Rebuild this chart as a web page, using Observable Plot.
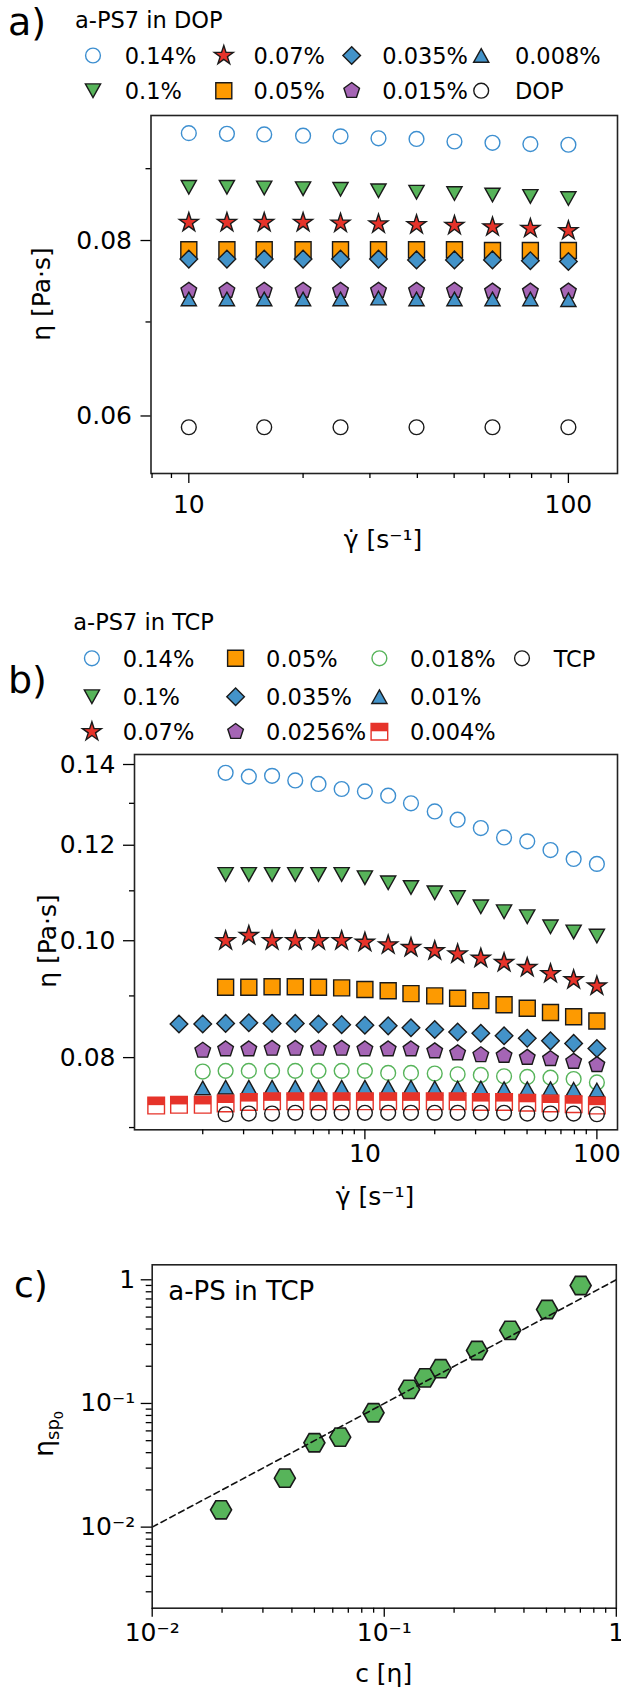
<!DOCTYPE html>
<html><head><meta charset="utf-8">
<script src="https://cdn.jsdelivr.net/npm/d3@7"></script>
<script src="https://cdn.jsdelivr.net/npm/@observablehq/plot@0.6"></script>
<style>
body{margin:0;background:#fff;}
#fig{position:relative;width:621px;height:1692px;font-family:"DejaVu Sans";background:#fff;}
</style></head><body><div id="fig"></div>
<script>
// ---------- DATA ----------
// panel a: a-PS7 in DOP
const rateA = [10, 12.6, 15.8, 20, 25.1, 31.6, 39.8, 50.1, 63.1, 79.4, 100];
const rateDOP = [10, 15.8, 25.1, 39.8, 63.1, 100];
const a014 = [0.0954, 0.0953, 0.0952, 0.0950, 0.0949, 0.0946, 0.0945, 0.0941, 0.0939, 0.0937, 0.0936];
const a01 = [0.0873, 0.0873, 0.0872, 0.0871, 0.0870, 0.0868, 0.0866, 0.0864, 0.0862, 0.0860, 0.0857];
const a007 = [0.0824, 0.0824, 0.0824, 0.0824, 0.0823, 0.0822, 0.0821, 0.0820, 0.0818, 0.0816, 0.0813];
const a005 = [0.0788, 0.0788, 0.0788, 0.0788, 0.0788, 0.0788, 0.0788, 0.0788, 0.0787, 0.0787, 0.0787];
const a0035 = [0.0776, 0.0776, 0.0776, 0.0776, 0.0776, 0.0776, 0.0775, 0.0775, 0.0775, 0.0774, 0.0773];
const a0015 = [0.0737, 0.0737, 0.0737, 0.0737, 0.0737, 0.0737, 0.0737, 0.0737, 0.0736, 0.0736, 0.0736];
const a0008 = [0.0727, 0.0727, 0.0727, 0.0727, 0.0727, 0.0728, 0.0727, 0.0727, 0.0727, 0.0727, 0.0726];
const aDOP = [0.0589, 0.0589, 0.0589, 0.0589, 0.0589, 0.0589];

// panel b: a-PS7 in TCP
const rateB = [1.26, 1.58, 2.0, 2.51, 3.16, 3.98, 5.01, 6.31, 7.94, 10, 12.6, 15.8, 20, 25.1, 31.6, 39.8, 50.1, 63.1, 79.4, 100];
const b014 = [0.1378, 0.1368, 0.1370, 0.1358, 0.1349, 0.1336, 0.1330, 0.1319, 0.1300, 0.1280, 0.1260, 0.1240, 0.1218, 0.1209, 0.1189, 0.1169, 0.1158];
const b01 = [0.1135, 0.1135, 0.1135, 0.1135, 0.1135, 0.1135, 0.1128, 0.1117, 0.1107, 0.1096, 0.1086, 0.1067, 0.1057, 0.1047, 0.1027, 0.1017, 0.1009];
const b007 = [0.1000, 0.1010, 0.1000, 0.1000, 0.1000, 0.1000, 0.0997, 0.0992, 0.0987, 0.0981, 0.0975, 0.0967, 0.0959, 0.0950, 0.0939, 0.0928, 0.0917];
const b005 = [0.0915, 0.0915, 0.0916, 0.0916, 0.0915, 0.0914, 0.0911, 0.0909, 0.0904, 0.0900, 0.0896, 0.0892, 0.0885, 0.0879, 0.0872, 0.0865, 0.0858];
const b0035 = [0.0853, 0.0853, 0.0854, 0.0855, 0.0854, 0.0854, 0.0853, 0.0852, 0.0851, 0.0850, 0.0847, 0.0844, 0.0840, 0.0838, 0.0834, 0.0830, 0.0826, 0.0822, 0.0814];
const b00256 = [0.0811, 0.0813, 0.0813, 0.0814, 0.0814, 0.0814, 0.0814, 0.0813, 0.0813, 0.0813, 0.0810, 0.0807, 0.0804, 0.0803, 0.0800, 0.0798, 0.0794, 0.0789];
const b0018 = [0.0779, 0.0780, 0.0780, 0.0780, 0.0780, 0.0780, 0.0780, 0.0780, 0.0777, 0.0777, 0.0776, 0.0775, 0.0774, 0.0772, 0.0771, 0.0770, 0.0768, 0.0763];
const b001 = [0.0755, 0.0756, 0.0756, 0.0756, 0.0756, 0.0756, 0.0756, 0.0756, 0.0756, 0.0756, 0.0755, 0.0755, 0.0755, 0.0754, 0.0754, 0.0754, 0.0753, 0.0752];
const b0004 = [0.0730, 0.0731, 0.0731, 0.0733, 0.0735, 0.0736, 0.0736, 0.0736, 0.0736, 0.0736, 0.0736, 0.0736, 0.0736, 0.0736, 0.0735, 0.0735, 0.0734, 0.0733, 0.0732, 0.0730];
const bTCP = [0.0718, 0.0719, 0.0719, 0.0720, 0.0720, 0.0720, 0.0720, 0.0720, 0.0720, 0.0720, 0.0720, 0.0720, 0.0720, 0.0719, 0.0719, 0.0719, 0.0718];

// panel c: a-PS in TCP
const cEta = [0.0198, 0.0373, 0.0500, 0.0646, 0.0899, 0.128, 0.150, 0.175, 0.251, 0.349, 0.503, 0.702];
const etaSp0 = [0.0138, 0.0249, 0.0481, 0.0534, 0.0841, 0.130, 0.161, 0.191, 0.268, 0.390, 0.575, 0.899];
const fitC = [0.01, 1];
const fitEta = [0.01, 1];

// ticks
const aXMajor = [10, 100], aXMinor = [8, 9, 20, 30, 40, 50, 60, 70, 80, 90];
const aYMajor = [0.06, 0.08], aYMinor = [0.07, 0.09];
const bXMajor = [10, 100], bXMinor = [2, 3, 4, 5, 6, 7, 8, 9, 20, 30, 40, 50, 60, 70, 80, 90];
const bYMajor = [0.08, 0.10, 0.12, 0.14], bYMinor = [0.07, 0.09, 0.11, 0.13];
const cMajor = [0.01, 0.1, 1], cMajorLabels = ["10\u207B\u00B2", "10\u207B\u00B9", "1"];
const cXMinor = [0.02, 0.03, 0.04, 0.05, 0.06, 0.07, 0.08, 0.09, 0.2, 0.3, 0.4, 0.5, 0.6, 0.7, 0.8, 0.9];
const cYMinor = [0.003, 0.004, 0.005, 0.006, 0.007, 0.008, 0.009, 0.02, 0.03, 0.04, 0.05, 0.06, 0.07, 0.08, 0.09, 0.2, 0.3, 0.4, 0.5, 0.6, 0.7, 0.8, 0.9];

// ---------- SYMBOLS ----------
function sym(fn) { return {draw(c, size) { fn(c, Math.sqrt(size / Math.PI) / 8); }}; }
function poly(c, pts) { pts.forEach(([x, y], i) => i ? c.lineTo(x, y) : c.moveTo(x, y)); c.closePath(); }
const circle = sym((c, k) => { const r = 7.4 * k; c.moveTo(r, 0); c.arc(0, 0, r, 0, 2 * Math.PI); });
const triDown = sym((c, k) => { const w = 7.6 * k, h = 6.8 * k; poly(c, [[-w, -h], [w, -h], [0, h]]); });
const triUp = sym((c, k) => { const w = 7.6 * k, h = 6.8 * k; poly(c, [[0, -h], [w, h], [-w, h]]); });
const square = sym((c, k) => { const s = 8 * k; c.rect(-s, -s, 2 * s, 2 * s); });
const squareH = sym((c, k) => { const s = 8.3 * k; c.rect(-s, -s, 2 * s, 2 * s); });
const topHalf = sym((c, k) => { const s = 8.3 * k; c.rect(-s, -s, 2 * s, 0.95 * s); });
const diamond = sym((c, k) => { const d = 8.8 * k; poly(c, [[0, -d], [d, 0], [0, d], [-d, 0]]); });
const star = sym((c, k) => { const R = 10 * k, r = R * 0.382; poly(c, d3.range(10).map(i => { const a = -Math.PI / 2 + i * Math.PI / 5, q = i % 2 ? r : R; return [q * Math.cos(a), q * Math.sin(a)]; })); });
const pentagon = sym((c, k) => { const R = 8.2 * k; poly(c, d3.range(5).map(i => { const a = -Math.PI / 2 + i * 2 * Math.PI / 5; return [R * Math.cos(a), R * Math.sin(a)]; })); });
const hexagon = sym((c, k) => { const R = 10.5 * k; poly(c, d3.range(6).map(i => { const a = i * Math.PI / 3; return [R * Math.cos(a), R * Math.sin(a)]; })); });

const BLUE_O = "#3d8fd0", GREEN = "#57b45a", RED = "#e6332a", ORANGE = "#fd9a01", BLUE = "#4393c9", PURPLE = "#a565b5", EDGE = "#1a1a1a";

const zip = (xs, ys) => ys.map((y, i) => ({x: xs[xs.length - ys.length + i], y}));

const seriesA = [
  {label: "0.14%", x: rateA, y: a014, symbol: circle, fill: "none", stroke: BLUE_O},
  {label: "0.1%", x: rateA, y: a01, symbol: triDown, fill: GREEN, stroke: EDGE},
  {label: "0.07%", x: rateA, y: a007, symbol: star, fill: RED, stroke: EDGE},
  {label: "0.05%", x: rateA, y: a005, symbol: square, fill: ORANGE, stroke: EDGE},
  {label: "0.035%", x: rateA, y: a0035, symbol: diamond, fill: BLUE, stroke: EDGE},
  {label: "0.015%", x: rateA, y: a0015, symbol: pentagon, fill: PURPLE, stroke: EDGE},
  {label: "0.008%", x: rateA, y: a0008, symbol: triUp, fill: BLUE, stroke: EDGE},
  {label: "DOP", x: rateDOP, y: aDOP, symbol: circle, fill: "none", stroke: EDGE}
];
const seriesB = [
  {label: "0.14%", y: b014, symbol: circle, fill: "none", stroke: BLUE_O},
  {label: "0.1%", y: b01, symbol: triDown, fill: GREEN, stroke: EDGE},
  {label: "0.07%", y: b007, symbol: star, fill: RED, stroke: EDGE},
  {label: "0.05%", y: b005, symbol: square, fill: ORANGE, stroke: EDGE},
  {label: "0.035%", y: b0035, symbol: diamond, fill: BLUE, stroke: EDGE},
  {label: "0.0256%", y: b00256, symbol: pentagon, fill: PURPLE, stroke: EDGE},
  {label: "0.018%", y: b0018, symbol: circle, fill: "none", stroke: GREEN},
  {label: "0.01%", y: b001, symbol: triUp, fill: BLUE, stroke: EDGE},
  {label: "0.004%", y: b0004, symbol: squareH, fill: "white", stroke: RED, half: true},
  {label: "TCP", y: bTCP, symbol: circle, fill: "none", stroke: EDGE}
];

function dots(s, xs) {
  const data = zip(xs, s.y);
  const m = [Plot.dot(data, {x: "x", y: "y", r: 8, symbol: s.symbol, fill: s.fill, stroke: s.stroke, strokeWidth: 1.4})];
  if (s.half) m.push(Plot.dot(data, {x: "x", y: "y", r: 8, symbol: topHalf, fill: RED}));
  return m;
}

const baseStyle = {fontFamily: "DejaVu Sans", fontSize: "25px", color: "#000", background: "transparent", overflow: "visible"};
const fig = document.getElementById("fig");
function place(svg, top) { svg.style.position = "absolute"; svg.style.top = top + "px"; svg.style.left = "0px"; fig.appendChild(svg); }

// ---------- PANEL A ----------
const plotA = Plot.plot({
  width: 621, height: 418, marginLeft: 150.5, marginRight: 4, marginTop: 20, marginBottom: 40,
  style: baseStyle,
  x: {type: "log", domain: [7.95, 134.7]},
  y: {type: "log", domain: [0.0546, 0.0982]},
  marks: [
    ...seriesA.flatMap(s => dots(s, s.x)),
    Plot.frame({stroke: "#222", strokeWidth: 1.6}),
    Plot.axisX({ticks: aXMajor, tickSize: 10, tickPadding: 12, tickFormat: d => String(d), label: null, strokeWidth: 1.3}),
    Plot.axisX({ticks: aXMinor, tickSize: 5, tickFormat: () => "", label: null, strokeWidth: 1.3}),
    Plot.axisY({ticks: aYMajor, tickSize: 10, tickPadding: 9, tickFormat: d3.format(".2f"), label: null, strokeWidth: 1.3}),
    Plot.axisY({ticks: aYMinor, tickSize: 5, tickFormat: () => "", label: null, strokeWidth: 1.3})
  ]
});
place(plotA, 95);

// ---------- PANEL B ----------
const plotB = Plot.plot({
  width: 621, height: 428, marginLeft: 134, marginRight: 4, marginTop: 10, marginBottom: 42.7,
  style: baseStyle,
  x: {type: "log", domain: [1.016, 122.7]},
  y: {type: "log", domain: [0.0697, 0.1427]},
  marks: [
    ...seriesB.flatMap(s => dots(s, rateB)),
    Plot.frame({stroke: "#222", strokeWidth: 1.6}),
    Plot.axisX({ticks: bXMajor, tickSize: 10, tickPadding: 4, tickFormat: d => String(d), label: null, strokeWidth: 1.3}),
    Plot.axisX({ticks: bXMinor, tickSize: 5, tickFormat: () => "", label: null, strokeWidth: 1.3}),
    Plot.axisY({ticks: bYMajor, tickSize: 11, tickPadding: 8, tickFormat: d3.format(".2f"), label: null, strokeWidth: 1.3}),
    Plot.axisY({ticks: bYMinor, tickSize: 5, tickFormat: () => "", label: null, strokeWidth: 1.3})
  ]
});
place(plotB, 744);

// ---------- PANEL C ----------
const cData = cEta.map((x, i) => ({x, y: etaSp0[i]}));
const fitData = fitC.map((x, i) => ({x, y: fitEta[i]}));
const cFmt = d => cMajorLabels[cMajor.indexOf(d)];
const plotC = Plot.plot({
  width: 621, height: 402, marginLeft: 151.7, marginRight: 5.2, marginTop: 10.3, marginBottom: 48.3,
  style: baseStyle,
  x: {type: "log", domain: [0.01, 1]},
  y: {type: "log", domain: [0.00221, 1.322]},
  marks: [
    Plot.dot(cData, {x: "x", y: "y", r: 8, symbol: hexagon, fill: GREEN, stroke: EDGE, strokeWidth: 1.6}),
    Plot.line(fitData, {x: "x", y: "y", stroke: "#111", strokeWidth: 1.6, strokeDasharray: "6,4"}),
    Plot.frame({stroke: "#222", strokeWidth: 1.6}),
    Plot.axisX({ticks: cMajor, tickSize: 9, tickPadding: 6, tickFormat: cFmt, label: null, strokeWidth: 1.3}),
    Plot.axisX({ticks: cXMinor, tickSize: 5, tickFormat: () => "", label: null, strokeWidth: 1.3}),
    Plot.axisY({ticks: cMajor, tickSize: 11, tickPadding: 6, tickFormat: cFmt, label: null, strokeWidth: 1.3}),
    Plot.axisY({ticks: cYMinor, tickSize: 6, tickFormat: () => "", label: null, strokeWidth: 1.3})
  ]
});
place(plotC, 1254);

// ---------- TEXT & LEGENDS (overlay) ----------
const ov = d3.select(fig).append("svg").attr("width", 621).attr("height", 1692)
  .style("position", "absolute").style("top", "0px").style("left", "0px")
  .attr("font-family", "DejaVu Sans").attr("fill", "#000");
function T(x, y, s, size, anchor = "start") {
  return ov.append("text").attr("x", x).attr("y", y).attr("font-size", size).attr("text-anchor", anchor).text(s);
}
function legendSym(s, x, y) {
  const g = ov.append("g").attr("transform", `translate(${x},${y})`);
  g.append("path").attr("d", d3.symbol(s.symbol, Math.PI * 64)()).attr("fill", s.fill).attr("stroke", s.stroke).attr("stroke-width", 1.4);
  if (s.half) g.append("path").attr("d", d3.symbol(topHalf, Math.PI * 64)()).attr("fill", RED);
}

// panel a
T(8, 35, "a)", 38);
T(75, 28, "a-PS7 in DOP", 22.5);
{
  const sx = [93, 223.8, 351.7, 481.2], lx = [124.8, 253.5, 382.2, 514.9], sy = [55.5, 90.7], by = [64, 99];
  seriesA.forEach((s, i) => { const c = Math.floor(i / 2), r = i % 2; legendSym(s, sx[c], sy[r]); T(lx[c], by[r], s.label, 22.5); });
}
T(383, 548, "\u03B3\u0307 [s\u207B\u00B9]", 25, "middle");
ov.append("text").attr("transform", "translate(50,294) rotate(-90)").attr("text-anchor", "middle").attr("font-size", 25).text("\u03B7 [Pa\u00B7s]");

// panel b
T(73.3, 630, "a-PS7 in TCP", 22.5);
T(8, 693, "b)", 38);
{
  const sx = [91.9, 235.6, 379.4, 522], lx = [122.8, 266.1, 409.9, 553.7], sy = [658.3, 696.7, 731.7], by = [666.7, 705, 740];
  seriesB.forEach((s, i) => { const c = Math.floor(i / 3), r = i % 3; legendSym(s, sx[c], sy[r]); T(lx[c], by[r], s.label, 22.5); });
}
T(375, 1205, "\u03B3\u0307 [s\u207B\u00B9]", 25, "middle");
ov.append("text").attr("transform", "translate(56,941) rotate(-90)").attr("text-anchor", "middle").attr("font-size", 25).text("\u03B7 [Pa\u00B7s]");

// panel c
T(14, 1297, "c)", 36);
T(168.3, 1300, "a-PS in TCP", 26);
T(383.7, 1682, "c [\u03B7]", 25, "middle");
{
  const t = ov.append("text").attr("transform", "translate(53,1434) rotate(-90)").attr("text-anchor", "middle").attr("font-size", 27);
  t.append("tspan").text("\u03B7");
  t.append("tspan").attr("font-size", 18).attr("dy", 6).text("sp");
  t.append("tspan").attr("font-size", 13).attr("dy", 4).text("0");
}
</script></body></html>
